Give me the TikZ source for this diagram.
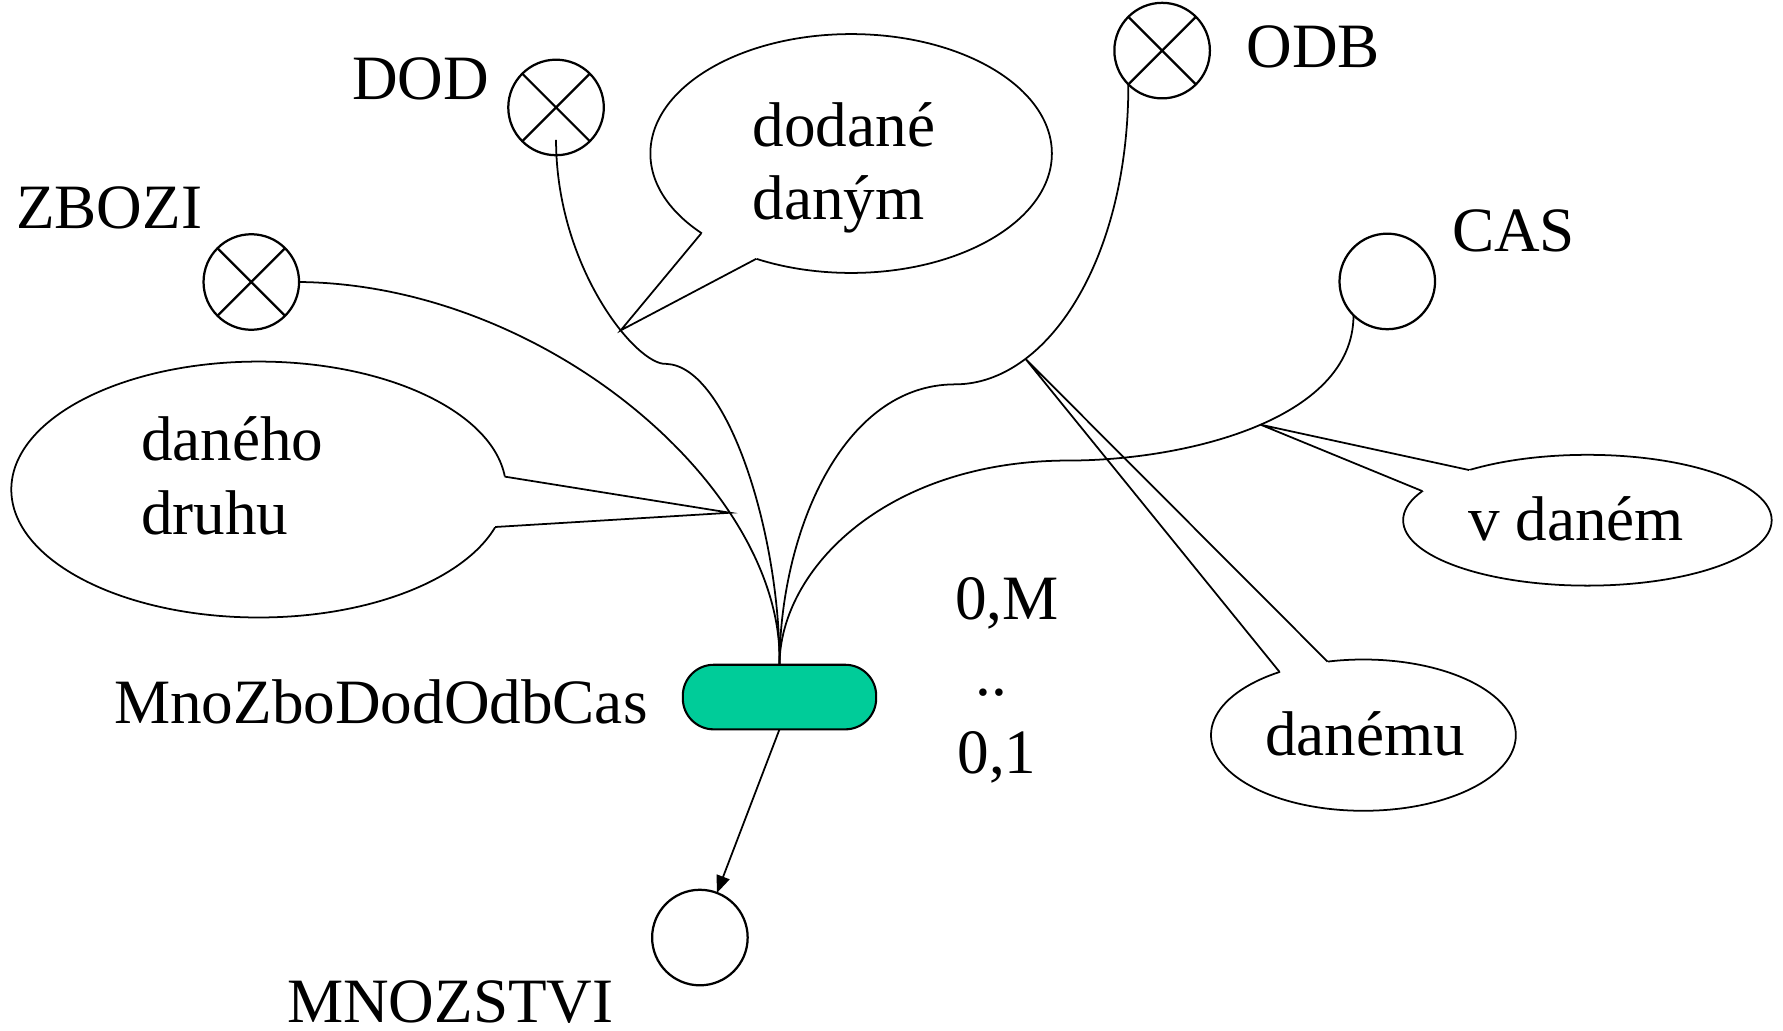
\documentclass[tikz,border=0pt]{standalone}
\usepackage{fontspec}
\setmainfont{Liberation Serif}
\usetikzlibrary{shapes.geometric,arrows.meta,calc}
\pgfdeclarelayer{back}
\pgfsetlayers{back,main}
\definecolor{relgreen}{RGB}{0,204,153}
\tikzset{
  lbl/.style={font=\fontsize{39.5}{46}\selectfont, inner sep=0pt, outer sep=0pt},
  ent/.style={circle, draw, line width=1.4pt, minimum size=2.1cm, inner sep=0pt, outer sep=0pt},
  cross/.style={line width=1.4pt},
  bubble/.style={ellipse, draw, line width=1.1pt, inner sep=0pt, outer sep=0pt},
  link/.style={line width=1.1pt},
  relbox/.style={rectangle, rounded corners=0.68cm, draw, line width=1.3pt, fill=relgreen,
    minimum width=4.25cm, minimum height=1.42cm, inner sep=0pt, outer sep=0pt},
}
\begin{document}
\begin{tikzpicture}[x=0.025cm, y=-0.025cm]
\path[use as bounding box] (0,0) rectangle (1568,906);

% entity circles
\node[ent] (zb) at (221,248) {};
\node[ent] (dd) at (489,94.5) {};
\node[ent] (od) at (1022,44.5) {};
\node[ent] (cs) at (1220,247.5) {};
\node[ent] (mn) at (615.5,824.5) {};
\foreach \n in {zb,dd,od}
  \draw[cross] (\n.north west) -- (\n.south east) (\n.north east) -- (\n.south west);

% entity names
\node[lbl] (zbl) at (96,183) {ZBOZI};
\node[lbl] (ddl) at (370,69) {DOD};
\node[lbl] (odl) at (1155,41) {ODB};
\node[lbl] (csl) at (1331,203) {CAS};
\node[lbl] (mnl) at (396,881.5) {MNOZSTVI};

% relationship
\node[relbox] (rel) at (685.5,613) {};
\node[lbl] (rell) at (335,617) {MnoZboDodOdbCas};

% participating entities
\draw[link] (zb.east) .. controls (480,250) and (690,430) .. (rel.north) coordinate[pos=0.715] (t1);
\draw[link] ($(dd.center)+(0,28.5)$) .. controls +(0,112) and (560,322) .. (586,320) coordinate[pos=0.64] (t2)
  .. controls (640,322) and (686,470) .. (rel.north);
\draw[link] (od.225) .. controls +(0,156) and (920,338) .. (840,338) coordinate[pos=0.73] (t3)
  .. controls (740,338) and (686,470) .. (rel.north);
\draw[link] (cs.225) .. controls +(0,93) and (1040,405) .. (940,405) coordinate[pos=0.48] (t4)
  .. controls (780,405) and (686,500) .. (rel.north);

% dependent attribute
\draw[link, -{Triangle[length=0.38cm,width=0.3cm]}] (rel.south) -- (mn);

% cardinality
\node[lbl, anchor=base west] (c1) at (840,545) {0,M};
\node[lbl, anchor=base west] (c2) at (858,612) {..};
\node[lbl, anchor=base west] (c3) at (842,680) {0,1};

% callout texts
\node[lbl, align=left, anchor=west] (b1t) at (662,147.5) {dodané\\daným};
\node[lbl, align=left, anchor=west] (b2t) at (124,418.5) {daného\\druhu};
\node[lbl] (b3t) at (1386,456) {v daném};
\node[lbl] (b4t) at (1200.5,645) {danému};

% callout bubbles
\begin{pgfonlayer}{back}
  \node[bubble, minimum width=8.825cm, minimum height=5.25cm] (b1) at (748.5,135) {};
  \node[bubble, minimum width=10.875cm, minimum height=5.625cm] (b2) at (227.5,430.5) {};
  \node[bubble, minimum width=8.1cm, minimum height=2.875cm] (b3) at (1396,457.5) {};
  \node[bubble, minimum width=6.7cm, minimum height=3.325cm] (b4) at (1199,646.5) {};
  \foreach \b/\p/\q/\t in {b1/208/228/t2, b2/3/351/t1, b3/157/170/t4, b4/143/116/t3} {
    \fill[white] (\b.\p) -- (\t) -- (\b.\q) -- ($(\b.center)!0.9!(\b.\q)$) -- ($(\b.center)!0.9!(\b.\p)$) -- cycle;
    \draw[link, line join=miter] (\b.\p) -- (\t) -- (\b.\q);
  }
\end{pgfonlayer}
\end{tikzpicture}
\end{document}
